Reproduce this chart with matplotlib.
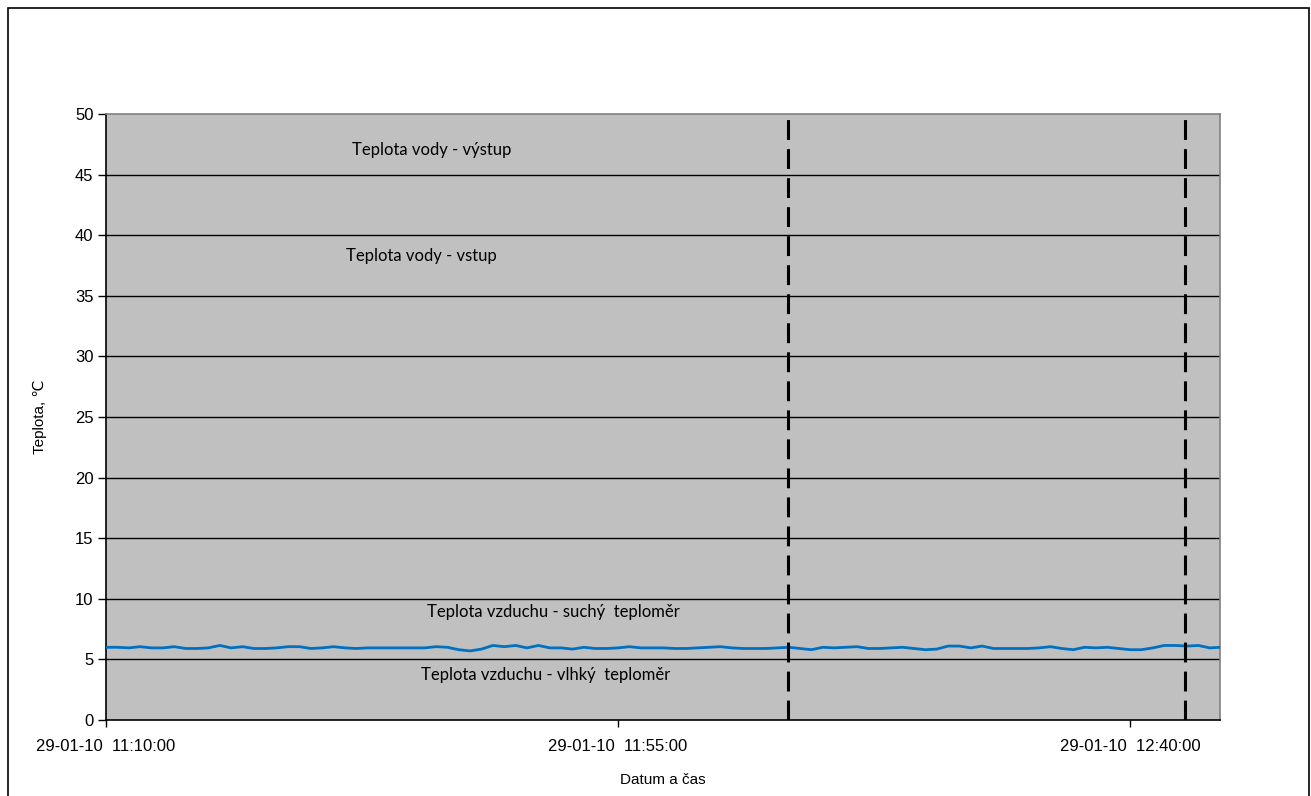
import matplotlib
matplotlib.use("Agg")
import matplotlib.pyplot as plt
import pandas as pd
from matplotlib.patches import Rectangle

# ---- data ----
start_time = "2010-01-29 11:10:00"
end_time = "2010-01-29 12:47:54"
air_dry_temp = [6.0, 6.0, 5.95, 6.05, 5.95, 5.95, 6.05, 5.9, 5.9, 5.95,
                6.15, 5.95, 6.05, 5.9, 5.9, 5.95, 6.05, 6.05, 5.9, 5.95,
                6.05, 5.95, 5.9, 5.95, 5.95, 5.95, 5.95, 5.95, 5.95, 6.05,
                6.0, 5.8, 5.7, 5.85, 6.15, 6.05, 6.15, 5.95, 6.15, 5.95,
                5.95, 5.85, 6.0, 5.9, 5.9, 5.95, 6.05, 5.95, 5.95, 5.95,
                5.9, 5.9, 5.95, 6.0, 6.05, 5.95, 5.9, 5.9, 5.9, 5.95,
                6.0, 5.9, 5.8, 6.0, 5.95, 6.0, 6.05, 5.9, 5.9, 5.95,
                6.0, 5.9, 5.8, 5.85, 6.1, 6.1, 5.95, 6.1, 5.9, 5.9,
                5.9, 5.9, 5.95, 6.05, 5.9, 5.8, 6.0, 5.95, 6.0, 5.9,
                5.8, 5.8, 5.95, 6.15, 6.15, 6.1, 6.15, 5.95, 6.0]
event_times = ["2010-01-29 12:09:55", "2010-01-29 12:44:50"]
xtick_times = ["2010-01-29 11:10:00", "2010-01-29 11:55:00", "2010-01-29 12:40:00"]
xtick_labels = ["29-01-10  11:10:00", "29-01-10  11:55:00", "29-01-10  12:40:00"]
yticks = [0, 5, 10, 15, 20, 25, 30, 35, 40, 45, 50]
labels = ["Teplota vody - výstup", "Teplota vody - vstup",
          "Teplota vzduchu - suchý  teploměr", "Teplota vzduchu - vlhký  teploměr"]

times = pd.date_range(start_time, periods=len(air_dry_temp), freq="1min")

fig = plt.figure(figsize=(13.11, 7.96), dpi=100)
fig.patches.append(Rectangle((8/1311, -0.01), 1301/1311, 1 - 8/796 + 0.01,
                             transform=fig.transFigure, fill=False,
                             edgecolor="black", linewidth=1.2))
ax = fig.add_axes([106/1311, 76/796, 1114/1311, 606/796])
ax.set_facecolor("#C0C0C0")

for y in yticks[1:-1]:
    ax.axhline(y, color="black", linewidth=1.0, zorder=1)

ax.plot(times, air_dry_temp, color="#0070C0", linewidth=2.0, zorder=3)

for et in event_times:
    ax.axvline(pd.Timestamp(et), color="black", linewidth=2.2,
               dashes=(6.5, 3.0), zorder=4)

ax.set_xlim(pd.Timestamp(start_time), pd.Timestamp(end_time))
ax.set_ylim(0, 50)
ax.set_yticks(yticks)
ax.set_yticklabels([str(v) for v in yticks], fontsize=12, family="Liberation Sans")
ax.set_xticks([pd.Timestamp(t) for t in xtick_times])
ax.set_xticklabels(xtick_labels, fontsize=12, family="Liberation Sans")
ax.tick_params(axis="y", length=6, width=1, pad=3)
ax.tick_params(axis="x", length=5, width=1, pad=9)

for s in ["left", "bottom"]:
    ax.spines[s].set_color("black")
    ax.spines[s].set_linewidth(1.2)
for s in ["top", "right"]:
    ax.spines[s].set_color("#808080")
    ax.spines[s].set_linewidth(1.2)

ax.set_ylabel("Teplota, ℃", fontsize=11, family=["Liberation Sans", "DejaVu Sans"], labelpad=20)
ax.set_xlabel("Datum a čas", fontsize=11, family="Liberation Sans", labelpad=13)

t0 = pd.Timestamp(start_time)
ann_pos = [(21.6, 47.0), (21.1, 38.3), (28.2, 8.9), (27.7, 3.7)]
for (m, yv), txt in zip(ann_pos, labels):
    ax.text(t0 + pd.Timedelta(minutes=m), yv, txt, fontsize=12, family="Lato",
            va="center", ha="left", color="black", zorder=5)

fig.savefig("out.png", dpi=100)
